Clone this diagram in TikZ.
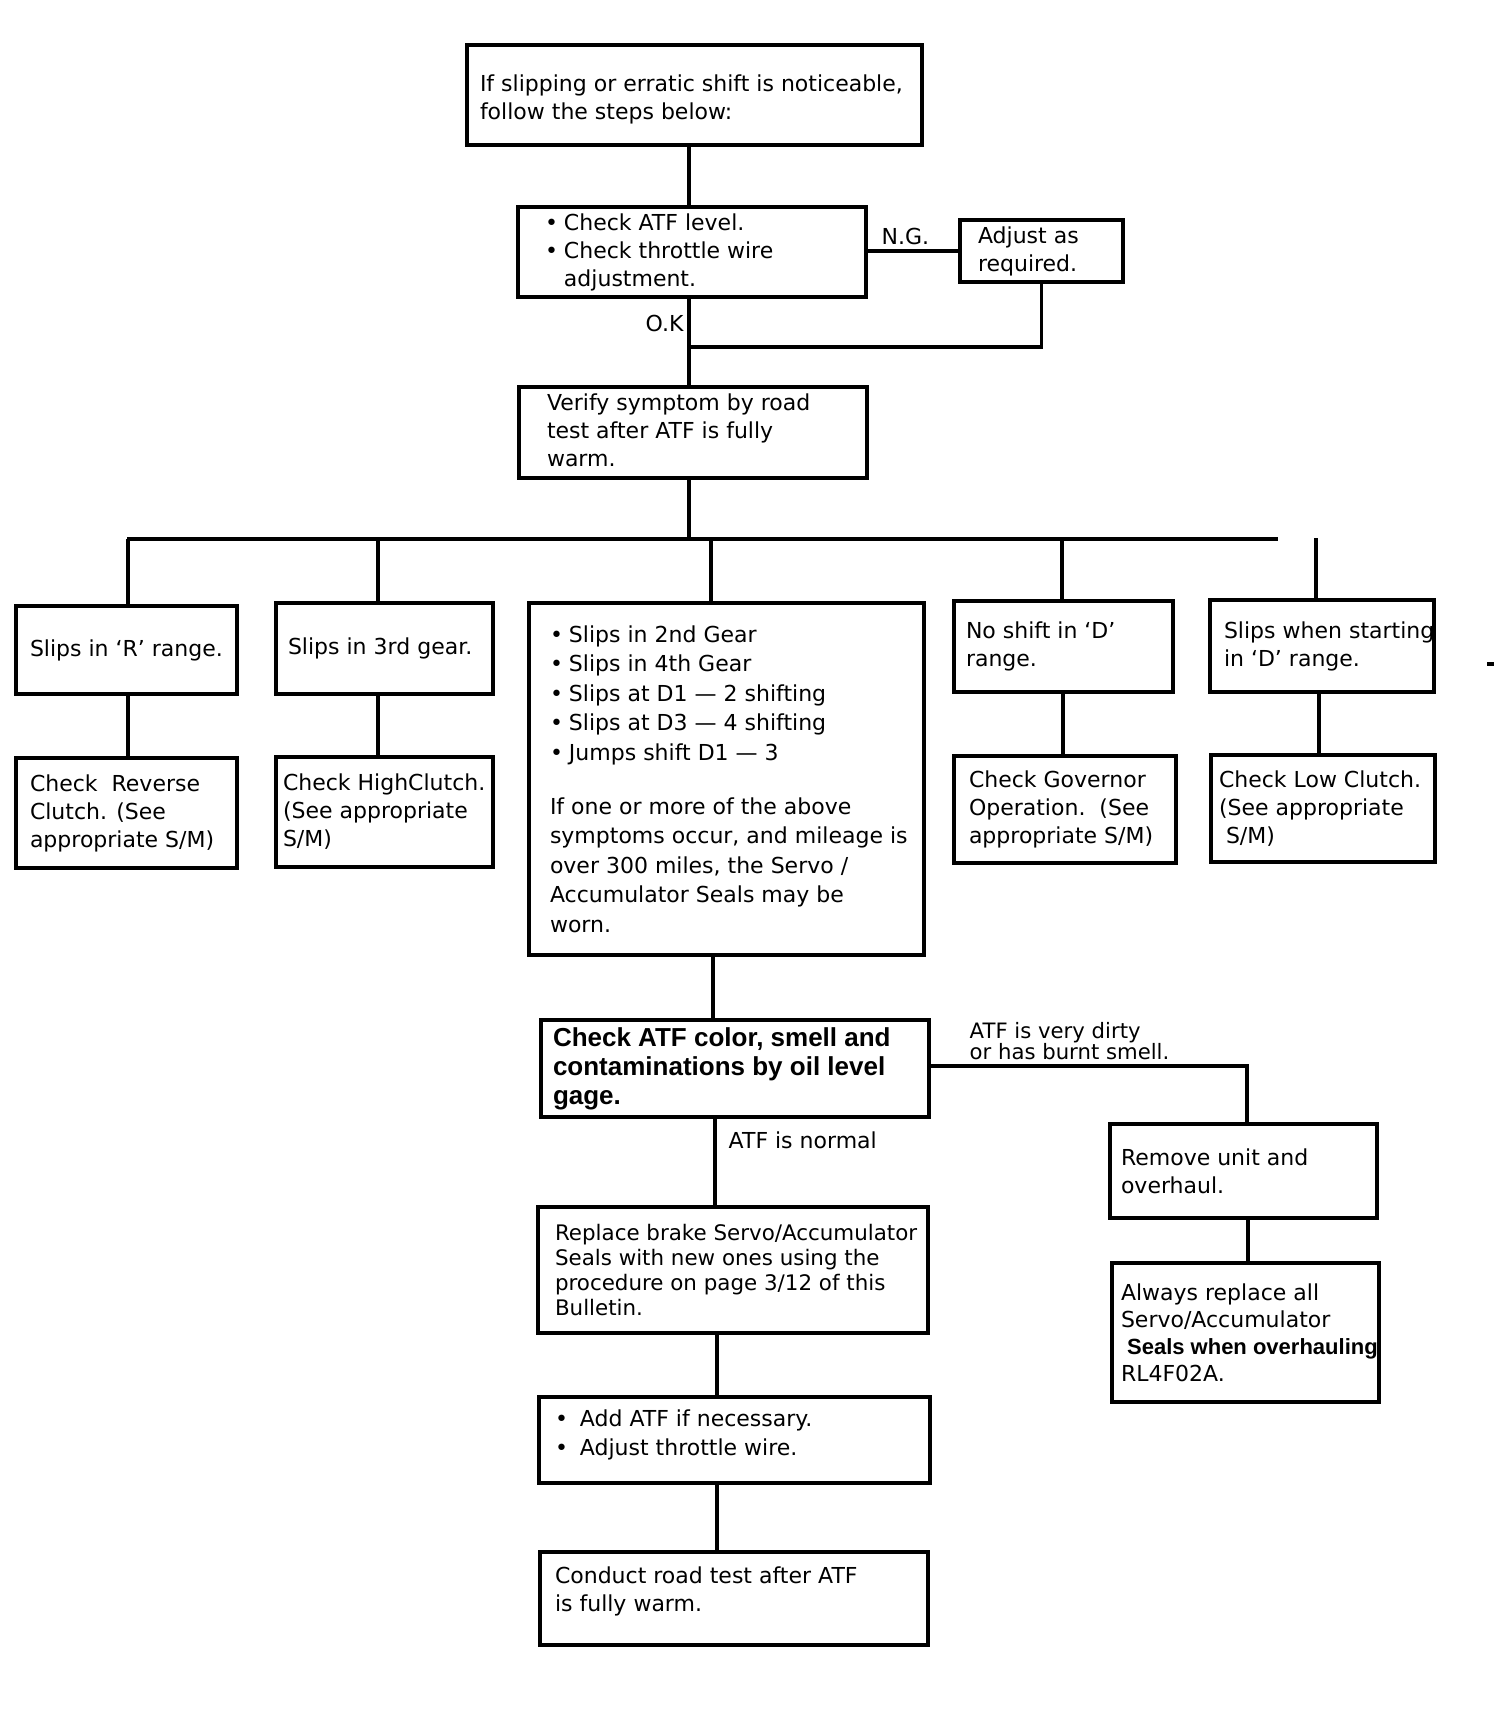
\documentclass[tikz,border=0pt]{standalone}
\usepackage{fontspec}
\setmainfont{DejaVu Sans}
\newfontfamily\arialf{Liberation Sans}
\newcommand\bx[8]{%
 \pgfmathsetmacro\bw{(#4-#2)*0.5}%
 \pgfmathsetmacro\bh{(#5-#3)*0.5}%
 \pgfmathsetmacro\bpx{#6*0.5}%
 \node[box, minimum width=\bw pt, minimum height=\bh pt] (#1) at ({(#2+#4)/2},{(#3+#5)/2}) {};
 \node[txt, anchor=west, xshift=\bpx pt, #7] (#1-t) at (#1.west) {#8};}
\newcommand\bul{\textbullet\hspace{3pt}}
\newcommand\nobul{\phantom{\textbullet}\hspace{3pt}}
\begin{document}
\begin{tikzpicture}[x=0.5pt,y=-0.5pt,line width=1.7pt,
  box/.style={draw,rectangle,inner sep=0pt},
  txt/.style={inner sep=0pt,align=left,font=\fontsize{11}{14}\selectfont},
  lbl/.style={inner sep=0pt,anchor=west,font=\fontsize{11}{14}\selectfont}]
\fill[white] (0,0) rectangle (1504,1718);
\useasboundingbox (0,0) rectangle (1504,1718);

% boxes
\bx{top}{467}{45}{922}{145}{13}{yshift=-2pt}{If slipping or erratic shift is noticeable,\\follow the steps below:}
\bx{chk}{518}{207}{866}{297}{27}{}{\bul Check ATF level.\\\bul Check throttle wire\\\nobul adjustment.}
\bx{adj}{960}{220}{1123}{282}{18}{}{Adjust as\\required.}
\bx{ver}{519}{387}{867}{478}{28}{yshift=1pt}{Verify symptom by road\\test after ATF is fully\\warm.}
\bx{sR}{16}{606}{237}{694}{14}{}{Slips in ‘R’ range.}
\bx{s3}{276}{603}{493}{694}{12}{}{Slips in 3rd gear.}
\bx{mid}{529}{603}{924}{955}{21}{font=\fontsize{11}{14.8}\selectfont}{\bul Slips in 2nd Gear\\\bul Slips in 4th Gear\\\bul Slips at D1 — 2 shifting\\\bul Slips at D3 — 4 shifting\\\bul Jumps shift D1 — 3\\[12pt]If one or more of the above\\symptoms occur, and mileage is\\over 300 miles, the Servo /\\Accumulator Seals may be\\worn.}
\bx{nD}{954}{601}{1173}{692}{12}{}{No shift in ‘D’\\range.}
\bx{sD}{1210}{600}{1434}{692}{14}{}{Slips when starting\\in ‘D’ range.}
\bx{cR}{16}{758}{237}{868}{14}{}{Check\ \ Reverse\\Clutch. (See\\appropriate S/M)}
\bx{cH}{276}{757}{493}{867}{7}{}{Check HighClutch.\\(See appropriate\\S/M)}
\bx{cG}{954}{756}{1176}{863}{15}{}{Check Governor\\Operation.\ \ (See\\appropriate S/M)}
\bx{cL}{1211}{755}{1435}{862}{8}{}{Check Low Clutch.\\(See appropriate\\\ S/M)}
\bx{col}{541}{1020}{929}{1117}{12}{font=\arialf\bfseries\fontsize{13}{14.5}\selectfont}{Check ATF color, smell and\\contaminations by oil level\\gage.}
\bx{rep}{538}{1207}{928}{1333}{17}{font=\fontsize{10.7}{12.5}\selectfont}{Replace brake Servo/Accumulator\\Seals with new ones using the\\procedure on page 3/12 of this\\Bulletin.}
\bx{rem}{1110}{1124}{1377}{1218}{11}{}{Remove unit and\\overhaul.}
\bx{alw}{1112}{1263}{1379}{1402}{9}{font=\fontsize{11}{13.5}\selectfont}{Always replace all\\Servo/Accumulator\\{\arialf\bfseries\fontsize{11}{13.5}\selectfont\ Seals when overhauling}\\RL4F02A.}
\bx{add}{539}{1397}{930}{1483}{16}{yshift=2.5pt,font=\fontsize{11}{14.5}\selectfont}{\textbullet\hspace{6pt}Add ATF if necessary.\\\textbullet\hspace{6pt}Adjust throttle wire.}
\bx{con}{540}{1552}{928}{1645}{15}{yshift=3.5pt}{Conduct road test after ATF\\is fully warm.}

% connectors
\draw (689,0 |- top.south) -- (689,0 |- chk.north);
\draw (chk.east |- adj.west) -- (adj.west);
\node[lbl] (ng) at (880,236) {N.G.};
\coordinate (j1) at (689,347);
\draw (689,0 |- chk.south) -- (689,0 |- ver.north);
\draw (adj.south) -- (adj.south |- j1) -- (j1);
\node[lbl] (ok) at (644,323) {O.K};

\coordinate (busL) at (127,539);
\coordinate (busR) at (1278,539);
\draw (689,0 |- ver.south) -- (689,539);
\draw (busL) -- (busR);
\draw (128,539) -- (128,0 |- sR.north);
\draw (378,539) -- (378,0 |- s3.north);
\draw (711,539) -- (711,0 |- mid.north);
\draw (1062,539) -- (1062,0 |- nD.north);
\draw (1316,538) -- (1316,0 |- sD.north);

\draw (128,0 |- sR.south) -- (128,0 |- cR.north);
\draw (378,0 |- s3.south) -- (378,0 |- cH.north);
\draw (1063,0 |- nD.south) -- (1063,0 |- cG.north);
\draw (1319,0 |- sD.south) -- (1319,0 |- cL.north);

\draw (713,0 |- mid.south) -- (713,0 |- col.north);
\draw (col.east |- 0,1066) -- (1247,1066) -- (1247,0 |- rem.north);
\node[lbl,font=\fontsize{10.6}{10.5}\selectfont,align=left] (dirty) at (968,1041) {ATF is very dirty\\or has burnt smell.};
\draw (1248,0 |- rem.south) -- (1248,0 |- alw.north);

\draw (715,0 |- col.south) -- (715,0 |- rep.north);
\node[lbl] (norm) at (727,1140) {ATF is normal};
\draw (717,0 |- rep.south) -- (717,0 |- add.north);
\draw (717,0 |- add.south) -- (717,0 |- con.north);

\fill (1487,662) rectangle (1494,666);
\end{tikzpicture}
\end{document}
